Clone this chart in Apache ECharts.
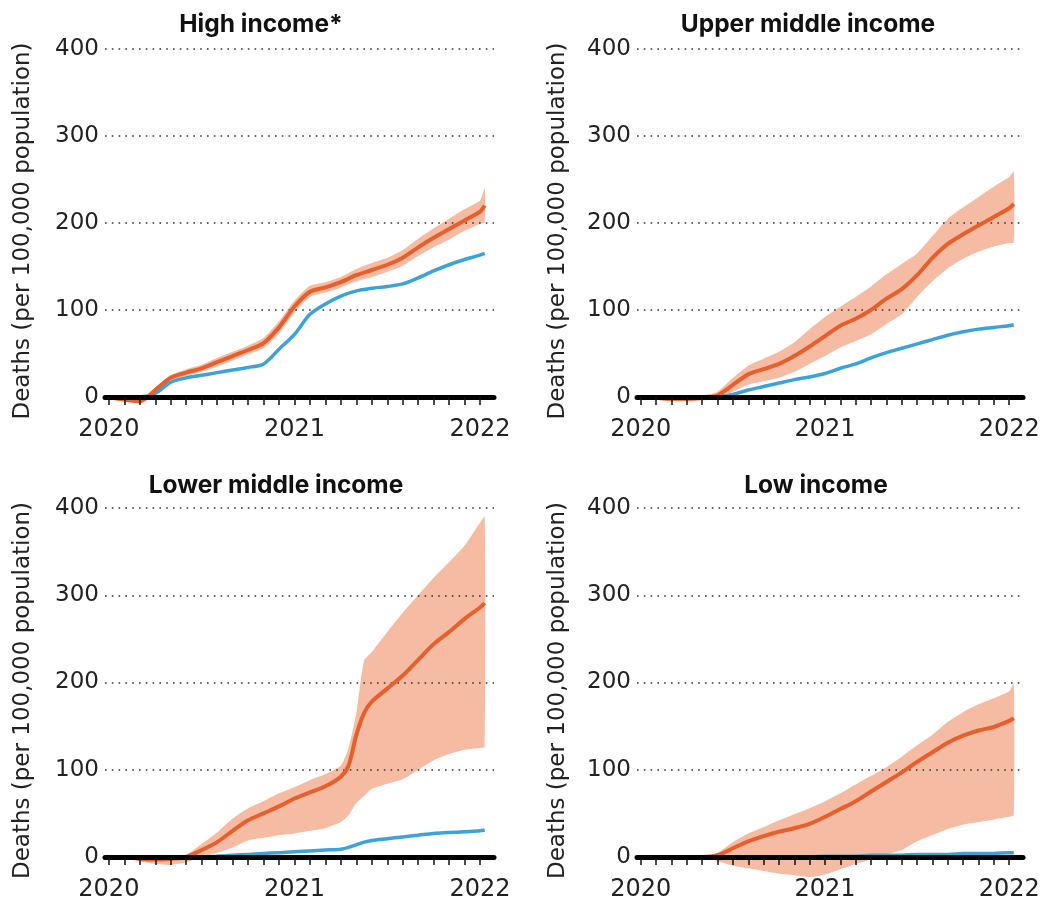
<!DOCTYPE html>
<html>
<head>
<meta charset="utf-8">
<script src="https://cdn.jsdelivr.net/npm/echarts@6/dist/echarts.min.js"></script>
<style>
html,body{margin:0;padding:0;background:#fff;}
#chart{width:1044px;height:899px;}
</style>
</head>
<body>
<div id="chart"></div>
<script>
// ---- data (x = months since Jan 2020) ----
var titles = ['High income*', 'Upper middle income', 'Lower middle income', 'Low income'];
var yearLabels = ['2020', '2021', '2022'];
var yTicks = [0, 100, 200, 300, 400];
var axisName = 'Deaths (per 100,000 population)';

var months = [0,1,2,3,4,5,6,7,8,9,10,11,12,13,14,15,16,17,18,19,20,21,22,23,24,24.3];
var monthsLM = [0,1,2,3,4,5,6,7,8,9,10,11,12,13,14,15,15.5,16,16.5,17,18,19,20,21,22,23,24,24.3];

// High income
var hiEst  = [0,-3,-5,8,22,28,33,40,47,54,62,80,104,121,126,132,140,146,152,160,172,183,193,203,213,220];
var hiLow  = [0,-4,-6,5,19,24,29,35,42,49,56,73,97,115,120,126,133,138,144,151,162,172,181,191,199,201];
var hiHigh = [0,-2,-4,11,25,32,37,45,52,59,68,87,111,128,132,138,147,154,160,169,182,194,205,216,226,240];
var hiRep  = [0,0,0,4,17,22,25,28,31,34,38,55,72,95,107,116,122,125,127,130,137,145,152,158,163,165];

// Upper middle income
var umEst  = [0,-1,-2,-2,-1,2,14,26,32,38,47,58,70,82,90,100,113,124,140,160,176,187,197,207,217,222];
var umLow  = [0,-3,-5,-5,-4,-2,6,14,18,22,29,38,47,57,64,72,84,95,115,133,148,159,167,173,177,178];
var umHigh = [0,1,1,1,2,6,22,36,44,52,63,78,92,104,115,127,141,153,165,185,205,218,230,242,253,259];
var umRep  = [0,0,0,0,0,0,3,8,12,16,20,23,27,33,38,45,51,56,61,66,71,75,78,80,82,83];

// Lower middle income
var lmEst  = [0,0,-2,-3,-2,0,8,17,30,42,50,58,67,74,81,92,105,140,165,178,193,208,226,244,258,273,286,291];
var lmLow  = [0,0,-5,-8,-9,-6,0,5,11,19,22,25,27,30,33,40,48,62,70,78,84,89,100,111,118,123,125,126];
var lmHigh = [0,1,1,0,1,3,15,28,44,56,64,73,80,88,95,105,125,165,225,235,258,280,300,320,338,357,383,390];
var lmRep  = [0,0,0,0,0,0,0,1,2,3,4,5,6,7,8,9,11,14,17,19,21,23,25,27,28,29,30,31];

// Low income
var liEst  = [0,0,0,0,0,2,10,18,24,29,33,38,46,55,64,75,86,97,109,120,131,139,145,149,156,159];
var liLow  = [0,0,0,0,0,-5,-10,-13,-16,-19,-21,-23,-20,-14,-8,-3,3,8,18,25,32,37,40,43,46,48];
var liHigh = [0,0,0,0,1,5,17,27,34,42,49,56,64,73,83,93,103,115,128,140,155,166,175,182,190,199];
var liRep  = [0,0,0,0,0,0,0,0,0,0,0,0,1,1,1,2,2,2,3,3,3,4,4,4,5,5];

// ---- styling / layout ----
var FONT = 'DejaVu Sans';
var TFONT = 'Inter';
var ORANGE = '#e5602d', BAND = '#f6bba3', BLUE = '#3ca2da';
var monthTicks = []; for (var m = 0; m <= 24; m++) monthTicks.push(m);

var panels = [
  {xs: months,   est: hiEst, low: hiLow, high: hiHigh, rep: hiRep, grid: {left: 105, width: 389, top: 49, height: 348}, tx: 261, ty: 12, gap: 70},
  {xs: months,   est: umEst, low: umLow, high: umHigh, rep: umRep, grid: {left: 637, width: 386, top: 49, height: 348}, tx: 808, ty: 12, gap: 67},
  {xs: monthsLM, est: lmEst, low: lmLow, high: lmHigh, rep: lmRep, grid: {left: 105, width: 389, top: 508, height: 349}, tx: 276, ty: 473, gap: 70},
  {xs: months,   est: liEst, low: liLow, high: liHigh, rep: liRep, grid: {left: 637, width: 386, top: 508, height: 349}, tx: 816, ty: 473, gap: 67}
];

function pairs(xs, ys) { return xs.map(function (x, i) { return [x, ys[i]]; }); }

var option = {
  animation: false,
  backgroundColor: '#fff',
  title: [], grid: [], xAxis: [], yAxis: [], series: []
};

panels.forEach(function (p, i) {
  option.title.push({
    text: titles[i], left: p.tx, top: p.ty, textAlign: 'center', padding: 0,
    textStyle: {fontFamily: TFONT, fontWeight: 'bold', fontSize: 24.5, color: '#111'}
  });
  option.grid.push(Object.assign({outerBoundsMode: 'none', containLabel: false}, p.grid));
  option.xAxis.push({
    type: 'value', gridIndex: i, min: -0.25, max: 24.9, z: 3,
    axisLine: {onZero: true, lineStyle: {color: '#000', width: 5}},
    axisTick: {customValues: monthTicks, length: 8, lineStyle: {color: '#111', width: 1.5}},
    axisLabel: {
      customValues: [0, 12, 24], margin: 21,
      formatter: function (v) { return yearLabels[Math.round(v / 12)]; },
      fontFamily: FONT, fontSize: 24, color: '#222'
    },
    splitLine: {show: false}
  });
  option.yAxis.push({
    type: 'value', gridIndex: i, min: yTicks[0], max: yTicks[yTicks.length - 1], interval: 100, z: 1,
    name: axisName, nameLocation: 'middle', nameRotate: 90, nameGap: p.gap,
    nameTextStyle: {fontFamily: FONT, fontSize: 23, color: '#222', padding: [0, 16, 0, 0]},
    axisLine: {show: false}, axisTick: {show: false},
    axisLabel: {margin: 6, fontFamily: FONT, fontSize: 23, color: '#222'},
    splitLine: {show: true, lineStyle: {color: '#333', width: 1.6, type: [1.6, 5.2]}}
  });
  option.series.push({
    type: 'custom', xAxisIndex: i, yAxisIndex: i, z: 0, silent: true, clip: false,
    encode: {x: 0, y: [1, 2]},
    data: p.xs.map(function (x, k) { return [x, p.low[k], p.high[k]]; }),
    renderItem: function (params, api) {
      if (params.dataIndex !== 0) return null;
      var up = [], dn = [];
      for (var k = 0; k < p.xs.length; k++) {
        up.push(api.coord([p.xs[k], p.high[k]]));
        dn.push(api.coord([p.xs[k], p.low[k]]));
      }
      return {
        type: 'polygon',
        shape: {points: up.concat(dn.reverse()), smooth: 0.2},
        style: {fill: BAND}
      };
    }
  });
  var common = {xAxisIndex: i, yAxisIndex: i, type: 'line', symbol: 'none', smooth: 0.3, silent: true, z: 2, clip: false};
  option.series.push(Object.assign({}, common, {
    name: 'reported' + i, lineStyle: {color: BLUE, width: 3.5}, data: pairs(p.xs, p.rep)
  }));
  option.series.push(Object.assign({}, common, {
    name: 'excess' + i, lineStyle: {color: ORANGE, width: 4}, data: pairs(p.xs, p.est)
  }));
});

var chart = echarts.init(document.getElementById('chart'), null, {renderer: 'canvas'});
chart.setOption(option);
</script>
</body>
</html>
